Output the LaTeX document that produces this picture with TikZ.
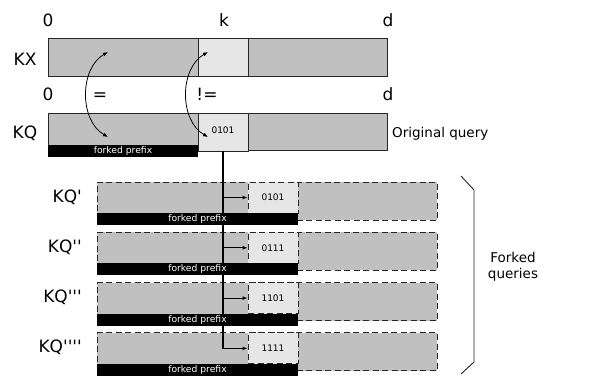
\documentclass[tikz,border=0pt]{standalone}
\usepackage{fontspec}
\setmainfont{DejaVu Sans}
\usetikzlibrary{arrows.meta}
\definecolor{barfill}{HTML}{C0C0C0}
\definecolor{keyfill}{HTML}{E6E6E6}
\definecolor{edge}{HTML}{262626}
\tikzset{
  solidbar/.style={draw=edge, line width=0.9pt, fill=barfill, inner sep=0pt, rectangle},
  keybox/.style={draw=edge, line width=0.9pt, fill=keyfill, inner sep=0pt, rectangle,
    font=\fontsize{9}{10}\selectfont},
  forkbar/.style={solidbar, dash pattern=on 6pt off 3.5pt},
  forkkey/.style={keybox, dash pattern=on 6pt off 3.5pt},
  prefixbar/.style={fill=black, text=white, inner sep=0pt, rectangle,
    font=\fontsize{9.2}{10}\selectfont},
  biglabel/.style={font=\fontsize{17}{20}\selectfont, inner sep=0pt, anchor=base},
  sidelabel/.style={font=\fontsize{13.5}{16}\selectfont, inner sep=0pt},
  conn/.style={line width=1.2pt, black, -{Latex[length=5pt,width=4pt]}},
  compare/.style={line width=0.8pt, {Latex[length=5pt,width=4pt]}-{Latex[length=5pt,width=4pt]}},
}
\begin{document}
\begin{tikzpicture}[x=1pt,y=-1pt]
\useasboundingbox (0,0) rectangle (589,375);

% key ruler labels
\node[biglabel] (zx) at (48,26) {0};
\node[biglabel] (kk) at (224,26) {k};
\node[biglabel] (dx) at (388,26) {d};
\node[biglabel] (zq) at (48,100) {0};
\node[biglabel] (eq) at (100,100) {=};
\node[biglabel] (ne) at (207,100) {!=};
\node[biglabel] (dq) at (388,100) {d};
\node[biglabel] (lkx) at (25,65) {KX};
\node[biglabel] (lkq) at (25,138) {KQ};

% stored key KX
\node[solidbar, minimum width=339pt, minimum height=38pt] (kx) at (217.5,57) {};
\node[keybox, minimum width=50pt, minimum height=38pt] (kxk) at (223,57) {};

% original query KQ
\node[solidbar, minimum width=339pt, minimum height=37pt] (kq) at (217.5,131.5) {};
\node[keybox, minimum width=50pt, minimum height=38pt] (kqk) at (223,132) {\raisebox{3pt}{0101}};
\node[prefixbar, minimum width=150pt, minimum height=12pt] (kqp) at (123,151) {forked prefix};
\node[sidelabel, anchor=base west] (orig) at (392,137) {Original query};

% comparison arrows between KX and KQ
\coordinate (kxa) at (108,52);
\coordinate (kqa) at (108,137);
\coordinate (kxb) at (208,52);
\coordinate (kqb) at (208,137);
\draw[compare] (kxa) to[bend right=60] (kqa);
\draw[compare] (kxb) to[bend right=60] (kqb);

% forked queries
\foreach \i/\code in {0/0101,1/0111,2/1101,3/1111}{
  \pgfmathsetmacro{\yo}{182+50.3*\i}
  \node[forkbar, minimum width=340pt, minimum height=38pt] (fq\i) at (267,\yo+19) {};
  \node[forkkey, minimum width=50pt, minimum height=31pt] (fk\i) at (273,\yo+15.5) {\code};
}
\foreach \i in {0,...,3}{
  \draw[conn] (kqk.south) |- (fk\i.west);
}
\foreach \i/\lab in {0/{KQ\textquotesingle},1/{KQ\textquotesingle\textquotesingle},
    2/{KQ\textquotesingle\textquotesingle\textquotesingle},
    3/{KQ\textquotesingle\textquotesingle\textquotesingle\textquotesingle}}{
  \pgfmathsetmacro{\yo}{182+50.3*\i}
  \node[prefixbar, minimum width=201pt, minimum height=12pt] (fp\i) at (197.5,\yo+37) {forked prefix};
  \node[biglabel, anchor=base east] (fl\i) at (82,\yo+20) {\lab};
}

% bracket grouping the forked queries
\draw[edge, line width=0.9pt] (461,176) -- (474,190) -- (474,362) -- (461,374);
\node[sidelabel, align=center] (forked) at (513,267) {Forked\\queries};
\end{tikzpicture}
\end{document}
